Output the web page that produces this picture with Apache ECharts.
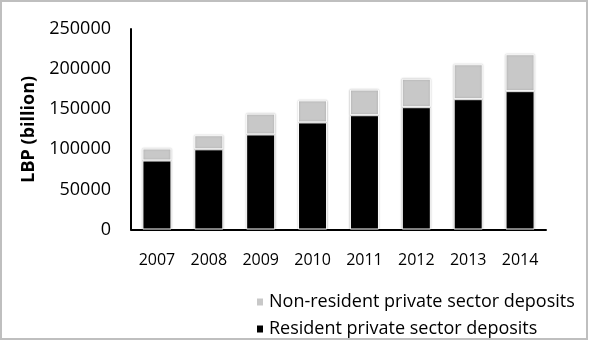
<!DOCTYPE html>
<html><head><meta charset="utf-8">
<script src="https://cdn.jsdelivr.net/npm/echarts@6/dist/echarts.min.js"></script>
<style>html,body{margin:0;padding:0;background:#fff}#c{width:590px;height:341px}</style>
</head><body><div id="c"></div>
<script>
const years = ['2007','2008','2009','2010','2011','2012','2013','2014'];
const resident = [86000, 100000, 118500, 133500, 142500, 152500, 162500, 172500];
const nonResident = [15000, 17500, 26000, 27500, 32000, 35500, 43500, 46000];
const yTicks = [0, 50000, 100000, 150000, 200000, 250000];
const seriesNames = ['Resident private sector deposits', 'Non-resident private sector deposits'];

const chart = echarts.init(document.getElementById('c'), null, {renderer:'canvas'});
const font = 'Open Sans';
const legendText = {fontFamily:font, fontSize:18, color:'#000', lineHeight:20};
chart.setOption({
  animation:false,
  backgroundColor:'#fff',
  graphic:[{type:'rect', shape:{x:1,y:1,width:586,height:338}, style:{fill:'none', stroke:'#bfbfbf', lineWidth:2}, silent:true}],
  grid:{left:131, right:44, top:29, bottom:111.5},
  legend:[
    {orient:'vertical', left:250, top:287, itemWidth:8, itemHeight:9, icon:'rect',
     textStyle:legendText, data:[seriesNames[1]]},
    {orient:'vertical', left:250, top:314, itemWidth:8, itemHeight:9, icon:'rect',
     textStyle:legendText, data:[seriesNames[0]]}
  ],
  xAxis:{
    type:'category', data:years,
    axisLine:{lineStyle:{color:'#000', width:2}},
    axisTick:{show:false},
    axisLabel:{color:'#000', fontFamily:font, fontSize:16, margin:23}
  },
  yAxis:{
    type:'value', min:yTicks[0], max:yTicks[yTicks.length-1], interval:50000,
    name:'LBP (billion)', nameLocation:'middle', nameGap:87,
    nameTextStyle:{fontFamily:font, fontSize:18, fontWeight:'bold', color:'#000'},
    axisLine:{show:true, lineStyle:{color:'#000', width:2}},
    axisTick:{show:false},
    splitLine:{show:false},
    axisLabel:{color:'#000', fontFamily:font, fontSize:18, margin:20, padding:[6,0,0,0], formatter:v=>String(v)}
  },
  series:[
    {name:seriesNames[0], type:'bar', stack:'t', data:resident, barWidth:'56%',
     itemStyle:{color:'#000', borderColor:'#fff', borderWidth:1, shadowBlur:2, shadowColor:'rgba(0,0,0,0.25)'}},
    {name:seriesNames[1], type:'bar', stack:'t', data:nonResident, barWidth:'56%',
     itemStyle:{color:'#c8c8c8', borderColor:'#fff', borderWidth:1, shadowBlur:2, shadowColor:'rgba(0,0,0,0.25)'}}
  ]
});
</script></body></html>
